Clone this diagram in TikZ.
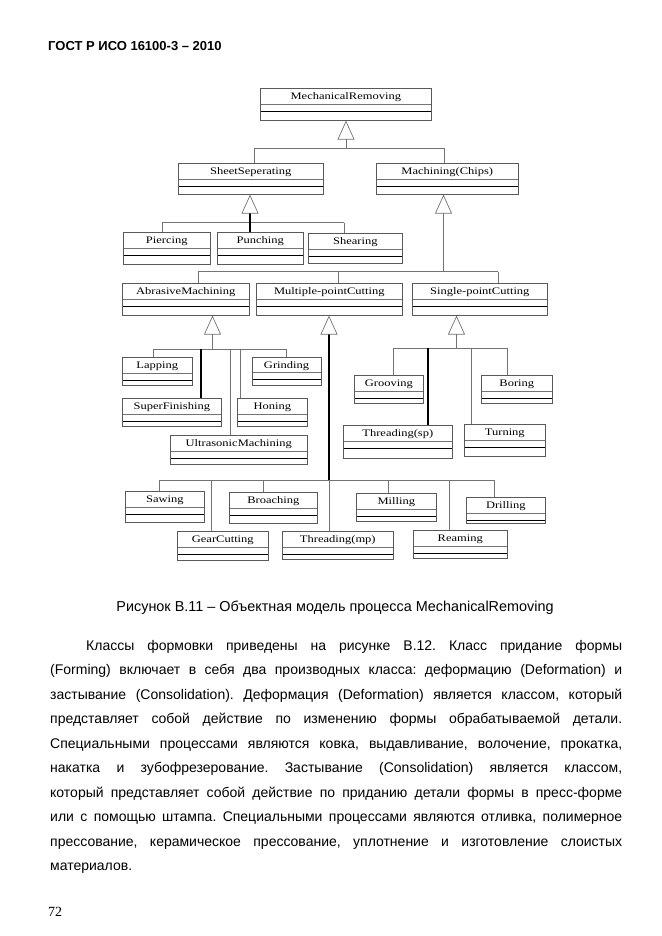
\documentclass[tikz,border=0pt]{standalone}
\usepackage{fontspec}
\setmainfont{Liberation Sans}
\newfontfamily\umlfont[FakeStretch=1.25]{Liberation Serif}
\newfontfamily\pagefont{Liberation Serif}
\usepackage{tikz}
\usetikzlibrary{arrows.meta}
\frenchspacing

\definecolor{linegray}{gray}{0.45}
\definecolor{boxgray}{gray}{0.35}

\tikzset{
  umlclass/.style 2 args={anchor=north west, draw=boxgray, line width=0.6pt,
    font=\umlfont\fontsize{10}{12}\selectfont, inner xsep=0pt, inner ysep=0pt,
    minimum width=#1, text height=11.5pt, text depth=#2,
    path picture={
      \draw[linegray, line width=1pt] ([yshift=-16pt]path picture bounding box.north west) -- ([yshift=-16pt]path picture bounding box.north east);
      \draw[black, line width=0.7pt] ([yshift=-23pt]path picture bounding box.north west) -- ([yshift=-23pt]path picture bounding box.north east);
    }},
  conn/.style={draw=linegray, line width=0.6pt},
  bold conn/.style={draw=black, line width=1.2pt},
  gen/.style={-{Triangle[open, length=19pt, width=17pt, line width=0.7pt, color=linegray]}},
  textline/.style={anchor=base west, inner sep=0pt, font=\fontsize{14}{16}\selectfont}
}

\begin{document}
\begin{tikzpicture}[x=1pt,y=-1pt]
  \fill[white] (0,0) rectangle (661,936);
  \useasboundingbox (0,0) rectangle (661,936);

  \node[textline, font=\bfseries\fontsize{13}{15}\selectfont] (head) at (48,51) {ГОСТ Р ИСО 16100-3 – 2010};

  % classes
  \node[umlclass={171pt}{20.5pt}] (MR) at (260,88) {MechanicalRemoving};
  \node[umlclass={145pt}{19.5pt}] (SS) at (178,163) {SheetSeperating};
  \node[umlclass={142pt}{19.5pt}] (MC) at (376,163) {Machining(Chips)};
  \node[umlclass={87pt}{20.5pt}] (Pierce) at (123,232) {Piercing};
  \node[umlclass={86pt}{20.5pt}] (Punch) at (217,232) {Punching};
  \node[umlclass={94pt}{18.5pt}] (Shear) at (308,233) {Shearing};
  \node[umlclass={127pt}{20.5pt}] (AM) at (122,283) {AbrasiveMachining};
  \node[umlclass={146pt}{20.5pt}] (MP) at (256,283) {Multiple-pointCutting};
  \node[umlclass={135pt}{20.5pt}] (SP) at (412,283) {Single-pointCutting};
  \node[umlclass={70pt}{16.5pt}] (Lap) at (122,357) {Lapping};
  \node[umlclass={68.5pt}{17pt}] (Grind) at (252,356.5) {Grinding};
  \node[umlclass={99pt}{16.5pt}] (SF) at (122,398) {SuperFinishing};
  \node[umlclass={70pt}{16.5pt}] (Hon) at (237,398) {Honing};
  \node[umlclass={137pt}{17.5pt}] (Ultra) at (170,435) {UltrasonicMachining};
  \node[umlclass={69pt}{16.5pt}] (Groove) at (354,375) {Grooving};
  \node[umlclass={71pt}{16.5pt}] (Bore) at (481,375) {Boring};
  \node[umlclass={109pt}{21.5pt}] (ThrS) at (343,425) {Threading(sp)};
  \node[umlclass={81pt}{20.5pt}] (Turn) at (464,424) {Turning};
  \node[umlclass={79pt}{19.5pt}] (Saw) at (125,491) {Sawing};
  \node[umlclass={88pt}{19.5pt}] (Broach) at (229,492) {Broaching};
  \node[umlclass={80pt}{16.5pt}] (Mill) at (356,493) {Milling};
  \node[umlclass={79pt}{14.5pt}] (Drill) at (466,497) {Drilling};
  \node[umlclass={91pt}{17.5pt}] (Gear) at (177,531) {GearCutting};
  \node[umlclass={111pt}{16.5pt}] (ThrM) at (282,531) {Threading(mp)};
  \node[umlclass={94pt}{16.5pt}] (Ream) at (413,530) {Reaming};

  % generalisations
  \coordinate (g1) at (346,148);
  \draw[conn] (254,148) -- (444,148);
  \foreach \n/\x in {SS/254, MC/444}
    \draw[conn] (\x,148) -- (\x,148 |- \n.north);
  \draw[conn,gen] (g1) -- (g1 |- MR.south);

  \coordinate (g2) at (250,222.7);
  \draw[conn] (162,222.7) -- (344,222.7);
  \foreach \n/\x in {Pierce/162, Shear/344}
    \draw[conn] (\x,222.7) -- (\x,222.7 |- \n.north);
  \draw[bold conn] (g2 |- Punch.north) -- (g2);
  \draw[bold conn,gen] (g2) -- (g2 |- SS.south);

  \coordinate (g3) at (443.5,271.7);
  \draw[conn] (198,271.7) -- (498,271.7);
  \foreach \n/\x in {AM/198, MP/338, SP/498}
    \draw[conn] (\x,271.7) -- (\x,271.7 |- \n.north);
  \draw[conn,gen] (g3) -- (g3 |- MC.south);

  \coordinate (g4) at (212.5,349);
  \draw[conn] (153,349) -- (286,349);
  \foreach \n/\x in {Lap/153, Ultra/230.5, Hon/240, Grind/286}
    \draw[conn] (\x,349) -- (\x,349 |- \n.north);
  \draw[bold conn] (201,349) -- (201,349 |- SF.north);
  \draw[conn,gen] (g4) -- (g4 |- AM.south);

  \coordinate (g5) at (329,480);
  \draw[conn] (159,480) -- (494,480);
  \foreach \n/\x in {Saw/159, Gear/211, Broach/263, ThrM/329, Mill/388, Ream/449, Drill/494}
    \draw[conn] (\x,480) -- (\x,480 |- \n.north);
  \draw[bold conn,gen] (g5) -- (g5 |- MP.south);

  \coordinate (g6) at (456.5,348);
  \draw[conn] (393,348) -- (507,348);
  \foreach \n/\x in {Groove/393, Turn/471, Bore/507}
    \draw[conn] (\x,348) -- (\x,348 |- \n.north);
  \draw[bold conn] (428,348) -- (428,348 |- ThrS.north);
  \draw[conn,gen] (g6) -- (g6 |- SP.south);

  % caption and text
  \node[anchor=base, inner sep=0pt, font=\fontsize{14.4}{16}\selectfont] (cap) at (335,611) {Рисунок В.11 – Объектная модель процесса MechanicalRemoving};

  \begin{scope}[every node/.style=textline]
    \node (p1) at (86,650) {\makebox[536pt][s]{Классы формовки приведены на рисунке В.12. Класс придание формы}};
    \node (p2) at (50,674.5) {\makebox[572pt][s]{(Forming) включает в себя два производных класса: деформацию (Deformation) и}};
    \node (p3) at (50,699) {\makebox[572pt][s]{застывание (Consolidation). Деформация (Deformation) является классом, который}};
    \node (p4) at (50,723.5) {\makebox[572pt][s]{представляет собой действие по изменению формы обрабатываемой детали.}};
    \node (p5) at (50,748) {\makebox[572pt][s]{Специальными процессами являются ковка, выдавливание, волочение, прокатка,}};
    \node (p6) at (50,772.5) {\makebox[572pt][s]{накатка и зубофрезерование. Застывание (Consolidation) является классом,}};
    \node (p7) at (50,797) {\makebox[572pt][s]{который представляет собой действие по приданию детали формы в пресс-форме}};
    \node (p8) at (50,821.5) {\makebox[572pt][s]{или с помощью штампа. Специальными процессами являются отливка, полимерное}};
    \node (p9) at (50,846) {\makebox[572pt][s]{прессование, керамическое прессование, уплотнение и изготовление слоистых}};
    \node (p10) at (50,870.5) {материалов.};
  \end{scope}

  \node[textline, font=\pagefont\fontsize{14}{16}\selectfont] (pg) at (48,916) {72};
\end{tikzpicture}
\end{document}
